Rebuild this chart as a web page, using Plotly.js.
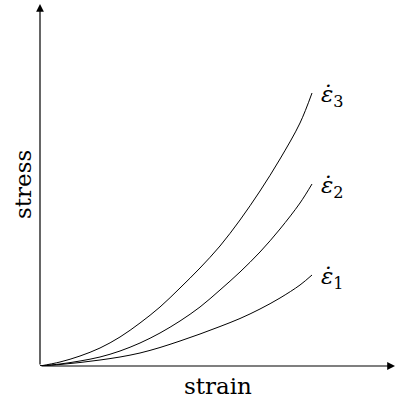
<!DOCTYPE html>
<html>
<head>
<meta charset="utf-8">
<script src="https://cdn.plot.ly/plotly-3.0.1.min.js"></script>
<style>
html,body{margin:0;padding:0;background:#fff;}
#chart{width:395px;height:403px;}
</style>
</head>
<body>
<div id="chart"></div>
<script>
// strain samples (arbitrary units) shared by all curves
const strain = [0, 20, 40, 60, 80, 100, 120, 140, 160, 180, 200, 220, 240, 260, 272];
// stress for each strain rate
const stressRate1 = [0, 1.5, 3.5, 6, 9, 13, 18.5, 25, 32, 39.5, 47.5, 57, 68, 81, 91];
const stressRate2 = [0, 2, 5, 9, 15, 23, 33, 45, 59, 76, 94, 114, 137, 163, 182];
const stressRate3 = [0, 4, 10, 18, 29, 43, 59, 78, 98, 120, 146, 175, 207, 243, 273];
const curveLabels = ['<i>ε̇</i><sub>1</sub>', '<i>ε̇</i><sub>2</sub>', '<i>ε̇</i><sub>3</sub>'];
const xLabel = 'strain';
const yLabel = 'stress';

const series = [stressRate1, stressRate2, stressRate3];
const FONT = 'DejaVu Serif, Liberation Serif, serif';

const traces = series.map((ys, i) => ({
  x: strain, y: ys, type: 'scatter', mode: 'lines',
  line: {color: '#000', width: 1, shape: 'spline', smoothing: 1},
  hoverinfo: 'skip', showlegend: false
}));

const XMAX = 355, YMAX = 366;
const annotations = [];
// axes with arrowheads
annotations.push({x: XMAX, y: 0, ax: 0, ay: 0, xref: 'x', yref: 'y', axref: 'x', ayref: 'y',
  text: '', showarrow: true, arrowhead: 2, arrowsize: 1.3, arrowwidth: 1.2, arrowcolor: '#000', standoff: 0});
annotations.push({x: 0, y: YMAX - 4, ax: 0, ay: 0, xref: 'x', yref: 'y', axref: 'x', ayref: 'y',
  text: '', showarrow: true, arrowhead: 2, arrowsize: 1.3, arrowwidth: 1.2, arrowcolor: '#000', standoff: 0});
// curve labels
series.forEach((ys, i) => {
  annotations.push({x: strain[strain.length - 1], y: ys[ys.length - 1], xref: 'x', yref: 'y',
    text: curveLabels[i], showarrow: false, xanchor: 'left', yanchor: 'middle', xshift: 7, yshift: -3,
    font: {family: FONT, size: 23, color: '#000'}});
});
// axis labels
annotations.push({x: 178, y: 0, xref: 'x', yref: 'paper', text: xLabel, showarrow: false,
  xanchor: 'center', yanchor: 'middle', yshift: -20, font: {family: FONT, size: 23, color: '#000'}});
annotations.push({x: 0, y: 181, xref: 'paper', yref: 'y', text: yLabel, showarrow: false, textangle: -90,
  xanchor: 'center', yanchor: 'middle', xshift: -17, font: {family: FONT, size: 23, color: '#000'}});

const layout = {
  width: 395, height: 403,
  margin: {l: 40, r: 0, t: 0, b: 37, pad: 0},
  paper_bgcolor: '#fff', plot_bgcolor: '#fff',
  xaxis: {range: [0, XMAX], showgrid: false, zeroline: false, showline: false, showticklabels: false, ticks: '', fixedrange: true},
  yaxis: {range: [0, YMAX], showgrid: false, zeroline: false, showline: false, showticklabels: false, ticks: '', fixedrange: true},
  annotations: annotations,
  showlegend: false
};

Plotly.newPlot('chart', traces, layout, {displayModeBar: false, staticPlot: true});
</script>
</body>
</html>
